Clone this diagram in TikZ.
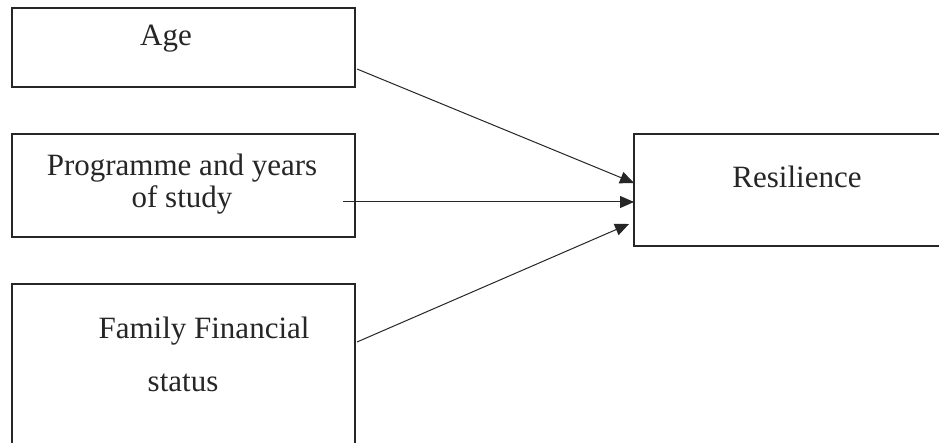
\documentclass[tikz,border=0pt]{standalone}
\usepackage{fontspec}
\setmainfont{Liberation Serif}
\usetikzlibrary{arrows.meta}
\begin{document}
\begin{tikzpicture}[x=1pt,y=-1pt,
  box/.style={draw=black!85,line width=1.3pt,inner sep=0pt},
  lbl/.style={font=\fontsize{31}{36}\selectfont,text=black!85,inner sep=0pt,anchor=base},
  conn/.style={draw=black!85,line width=1pt,-{Triangle[length=14pt,width=12pt]}}]
\useasboundingbox (0,0) rectangle (939,443);
\clip (0,0) rectangle (939,443);
\fill[white] (0,0) rectangle (939,443);
\node[box,minimum width=343pt,minimum height=79pt] (age) at (183.5,47.5) {};
\node[box,minimum width=343pt,minimum height=103pt] (prog) at (183.5,185.5) {};
\node[box,minimum width=343pt,minimum height=180pt] (fam) at (183.5,374) {};
\node[box,minimum width=320pt,minimum height=112pt] (res) at (794,190) {};
\node[lbl] (tage) at (166,46) {Age};
\node[lbl] (tprog1) at (182,176) {Programme and years};
\node[lbl] (tprog2) at (182,208) {of study};
\node[lbl] (tfam1) at (204,338) {Family Financial};
\node[lbl] (tfam2) at (183,391) {status};
\node[lbl] (tres) at (797,188) {Resilience};
\coordinate (s1) at (357,69);
\coordinate (s2) at (343,202);
\coordinate (s3) at (357,342);
\coordinate (e1) at (634,183);
\coordinate (e2) at (634,202);
\coordinate (e3) at (629,224);
\draw[conn] (s1) -- (e1);
\draw[conn] (s2) -- (e2);
\draw[conn] (s3) -- (e3);
\end{tikzpicture}
\end{document}
